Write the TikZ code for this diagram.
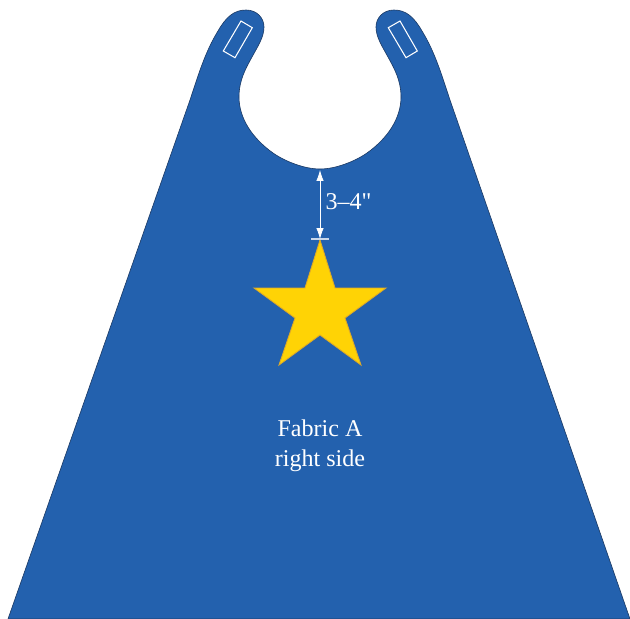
\documentclass[tikz,border=0pt]{standalone}
\usepackage{fontspec}
\newfontfamily\capeserif{Liberation Serif}
\usetikzlibrary{arrows.meta,positioning}
\definecolor{capeblue}{RGB}{35,97,174}
\definecolor{capeedge}{RGB}{28,58,100}
\definecolor{stargold}{RGB}{255,211,5}
\definecolor{staredge}{RGB}{222,170,40}
\tikzset{
  capebody/.style={fill=capeblue, draw=capeedge, line width=0.35pt},
  capestar/.style={fill=stargold, draw=staredge, line width=0.5pt},
  capetab/.style={draw=white, line width=0.6pt},
  capearrow/.style={{Latex[length=2.2mm,width=1.5mm]}-{Latex[length=2.2mm,width=1.5mm]}, white, line width=0.45pt},
  capetick/.style={white!75!capeblue, line width=0.6pt},
  capetext/.style={white, font=\capeserif\fontsize{13.7}{17}\selectfont, align=center},
}
\begin{document}
\begin{tikzpicture}[x=0.02cm, y=-0.02cm]
  \useasboundingbox (0,0) rectangle (630,619);
  % cape
  \draw[capebody] (8,619) -- (190,100)
    .. controls (198,76) and (205,52) .. (218,31)
    .. controls (226,17) and (234,10) .. (246,10)
    .. controls (257,10) and (264,18) .. (264,27)
    .. controls (264,37) and (258,46) .. (252,57)
    .. controls (246,68) and (239,80) .. (239,97)
    .. controls (239,118) and (252,138) .. (273,153)
    .. controls (286,162) and (305,169) .. (320,169)
    .. controls (335,169) and (354,162) .. (367,153)
    .. controls (388,138) and (401,118) .. (401,97)
    .. controls (401,80) and (394,68) .. (388,57)
    .. controls (382,46) and (376,37) .. (376,27)
    .. controls (376,18) and (383,10) .. (394,10)
    .. controls (406,10) and (414,17) .. (422,31)
    .. controls (435,52) and (442,76) .. (450,100)
    -- (630,619) -- cycle;
  % tabs
  \draw[capetab] (241,21) -- (252.3,27.7) -- (235,57.7) -- (223.3,51) -- cycle;
  \draw[capetab] (400,21) -- (388.3,27.7) -- (406,57.7) -- (417.3,51) -- cycle;
  % star
  \draw[capestar] (320,240) -- (335,288) -- (386,288) -- (345,318) -- (361,365)
    -- (320,335) -- (279,365) -- (295,318) -- (254,288) -- (305,288) -- cycle;
  % measure
  \coordinate (neck) at (320,170);
  \coordinate (startip) at (320,239);
  \coordinate (tickl) at (311,239);
  \coordinate (tickr) at (329,239);
  \draw[capetick] (tickl) -- (tickr);
  \draw[capearrow] (neck) -- (startip);
  \node[capetext] (gap) at (348.5,202) {3–4"};
  \node[capetext] (fabric) at (320,446) {Fabric A\\right side};
\end{tikzpicture}
\end{document}
